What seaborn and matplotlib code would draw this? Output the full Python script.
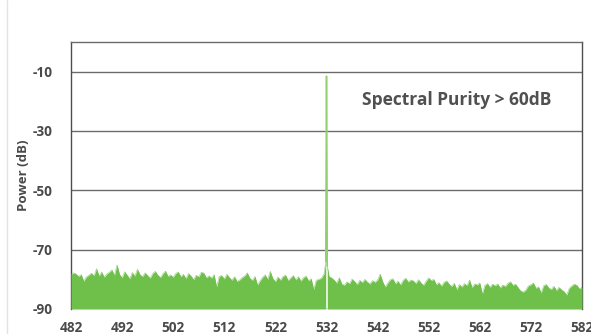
import numpy as np
import pandas as pd
import matplotlib
matplotlib.use("Agg")
import matplotlib.pyplot as plt
from matplotlib.lines import Line2D
import seaborn as sns

# Emission spectrum of a 532 nm laser (power in dB vs wavelength in nm)
left_nm = np.append(np.arange(482.0, 531.6, 0.5), 531.85)
left_db = [
    -78.5, -77.8, -78.2, -79.0, -78.4, -80.6, -79.2, -78.6, -77.9, -78.8,
    -76.4, -78.9, -77.5, -79.3, -78.2, -77.6, -76.8, -78.7, -75.1, -78.3,
    -79.5, -77.4, -78.6, -79.8, -77.7, -78.9, -76.6, -78.4, -79.1, -77.8,
    -78.7, -79.6, -78.0, -77.3,
    -78.6, -79.4, -78.1, -77.2, -79.0, -78.5, -79.3, -78.0, -77.5, -79.1,
    -78.3, -79.8, -78.0, -78.9, -80.1, -78.6, -79.2, -77.6, -77.9, -79.5,
    -78.8, -79.6, -78.4, -82.6, -79.0, -78.7, -79.9, -78.3, -79.4, -80.3,
    -79.1, -80.7, -80.2,
    -79.4, -78.8, -77.8, -79.6, -80.4, -79.0, -81.9, -80.5, -79.3, -78.5,
    -80.0, -77.3, -79.7, -80.8, -79.2, -80.3, -79.0, -78.6, -80.4, -79.5,
    -78.7, -80.2, -79.1, -80.6, -79.4, -78.9, -80.5, -79.8, -83.4, -80.3,
    -80.0, -79.6, -78.2,
    -74.0,
]

right_nm = np.insert(np.arange(532.5, 582.01, 0.5), 0, 532.15)
right_db = [
    -75.5,
    -79.0, -79.5, -80.2, -81.3, -79.4, -81.6, -82.0, -80.8, -81.5, -79.9,
    -80.7, -81.8, -80.3, -81.1, -80.0, -80.9, -81.6, -80.4, -81.0, -80.2,
    -78.2, -80.8, -82.6, -81.2, -80.1, -79.8, -81.5, -80.6, -81.9, -80.3,
    -79.6, -80.9, -80.2,
    -80.5, -81.4, -80.1, -81.2, -82.0, -80.6, -79.5, -80.4, -80.0, -81.8,
    -81.1, -82.3, -81.0, -80.5, -81.6, -82.4, -81.3, -83.5, -81.7, -82.6,
    -81.4, -82.1, -80.2, -82.8, -81.5, -81.9, -81.2, -84.9, -82.0, -81.4,
    -82.7, -81.6, -82.2,
    -81.5, -82.9, -81.9, -82.4, -81.3, -80.8, -82.0, -81.6, -82.8, -83.9,
    -84.3, -83.6, -82.2, -81.8, -81.2, -83.0, -82.5, -84.6, -82.1, -81.7,
    -82.9, -83.4, -82.3, -83.8, -82.7, -83.5, -84.1, -85.3, -83.0, -82.2,
    -81.6, -82.0, -83.2, -82.6,
]

peak_nm = [531.85, 532.0, 532.15]
peak_db = [-74.0, -11.5, -75.5]

x_ticks = list(range(482, 583, 10))
y_ticks = [-10, -30, -50, -70, -90]
annotation = "Spectral Purity > 60dB"

green = "#6fbf4b"
light_green = "#8fd06f"
text_grey = "#4a4a4a"

sns.set_theme(style="white")
plt.rcParams["font.family"] = ["Open Sans", "DejaVu Sans"]

fig = plt.figure(figsize=(5.91, 3.34), dpi=100)
ax = fig.add_axes([71 / 591, 1 - 309 / 334, 511 / 591, 267 / 334])

floor = pd.concat([
    pd.DataFrame({"nm": left_nm, "db": left_db, "part": "left"}),
    pd.DataFrame({"nm": right_nm, "db": right_db, "part": "right"}),
])

# Noise floor as filled areas on either side of the laser line
for part, grp in floor.groupby("part"):
    ax.fill_between(grp["nm"], grp["db"], -90, color=green, lw=0, zorder=3)
sns.lineplot(data=floor, x="nm", y="db", units="part", estimator=None,
             color=green, lw=0.3, ax=ax, zorder=3, legend=False)

# The 532 nm line itself
ax.fill_between(peak_nm, peak_db, min(peak_db), color=light_green, alpha=0.6,
                lw=0, zorder=3)
sns.lineplot(x=peak_nm, y=peak_db, color=light_green, lw=1.1, ax=ax, zorder=4,
             estimator=None, sort=False)

ax.set_xlim(482, 582)
ax.set_ylim(-90, 0)
ax.set_xticks(x_ticks)
ax.set_yticks(y_ticks)
ax.set_xticklabels([str(t) for t in x_ticks])
ax.set_yticklabels([str(t) for t in y_ticks])
ax.tick_params(axis="both", length=0, labelsize=9.8, labelcolor=text_grey)
ax.tick_params(axis="x", pad=9)
ax.tick_params(axis="y", pad=13)
for lbl in ax.get_xticklabels() + ax.get_yticklabels():
    lbl.set_fontweight("bold")
    lbl.set_clip_on(False)

ax.yaxis.grid(True, color="#6b6b6b", lw=1.0, zorder=1)
ax.set_axisbelow(True)
ax.set_xlabel("")
ax.set_ylabel("Power (dB)", fontsize=9.5, fontweight="bold", color=text_grey,
              labelpad=6)
ax.yaxis.set_label_coords(-0.08, 0.5)

for side in ("left", "right", "top"):
    ax.spines[side].set_visible(True)
    ax.spines[side].set_color("#4d4d4d")
    ax.spines[side].set_linewidth(1.0)
    ax.spines[side].set_zorder(1)
ax.spines["top"].set_color("#6b6b6b")
ax.spines["bottom"].set_visible(False)

ax.text(0.755, 0.783, annotation, transform=ax.transAxes, ha="center",
        va="center", fontsize=12.5, color="#505050", fontweight="bold")

# Thin page border on the left
fig.add_artist(Line2D([7 / 591, 7 / 591], [0, 1], transform=fig.transFigure,
                      color="#e3e3e3", lw=1.0))

fig.savefig("out.png", dpi=100)
